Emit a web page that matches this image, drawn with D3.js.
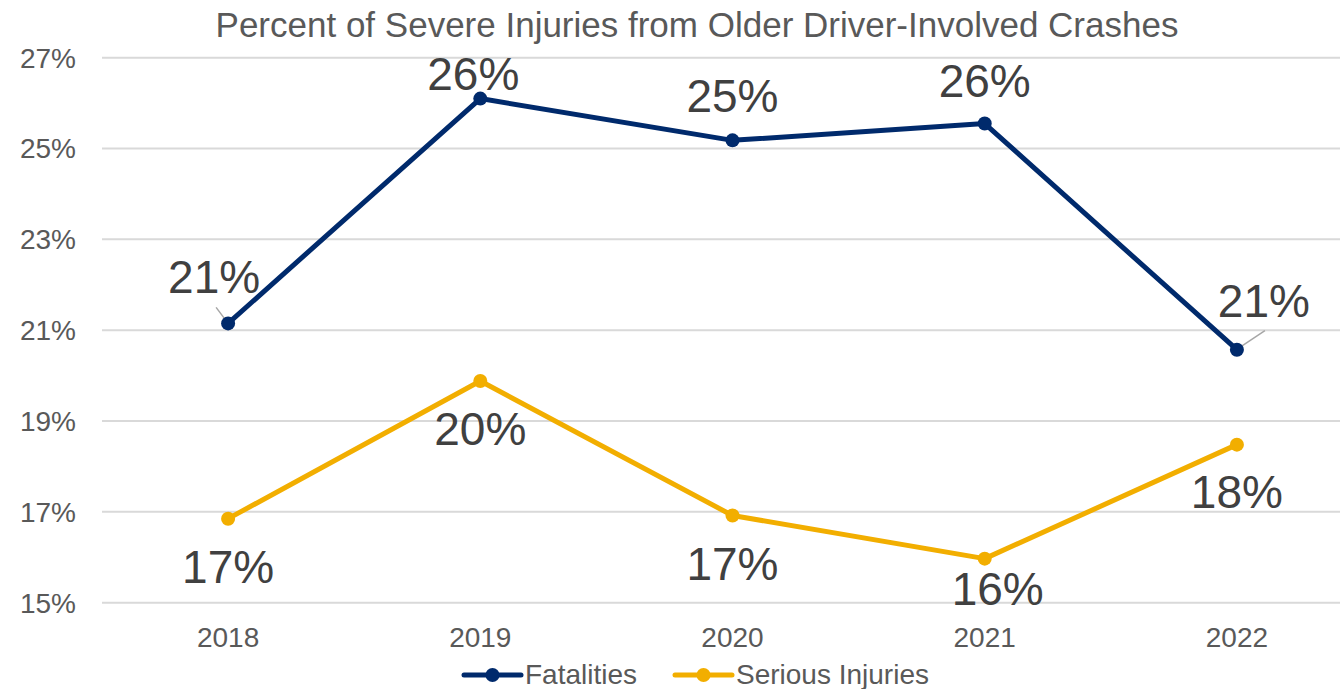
<!DOCTYPE html>
<html>
<head>
<meta charset="utf-8">
<script src="https://cdn.jsdelivr.net/npm/d3@7"></script>
<style>
  body { margin: 0; background: #fff; }
  svg { display: block; font-family: "Liberation Sans", Arial, sans-serif; }
</style>
</head>
<body>
<div id="chart"></div>
<script>
// chart data
var years = ["2018", "2019", "2020", "2021", "2022"];
var fatalities = [21.15, 26.1, 25.18, 25.55, 20.57];
var serious = [16.85, 19.88, 16.92, 15.97, 18.48];
var yTicks = [15, 17, 19, 21, 23, 25, 27];
var seriesNames = ["Fatalities", "Serious Injuries"];
var title = "Percent of Severe Injuries from Older Driver-Involved Crashes";

// label placement (dx, dy to baseline) relative to the point
var fatalOffsets = [[-14, -30], [-7, -9], [0, -28], [0, -27], [27, -33]];
var seriousOffsets = [[0, 64], [0, 64], [0, 64], [13, 46], [0, 63]];

var width = 1340, height = 689;
var margin = {top: 58, right: -23, bottom: 86, left: 102};
var colors = ["#002A6C", "#F2AE00"];

var svg = d3.select("#chart").append("svg")
    .attr("width", width).attr("height", height);

var xScale = d3.scaleBand()
    .domain(years)
    .range([margin.left, width - margin.right]);
var yScale = d3.scaleLinear()
    .domain([15, 27])
    .range([height - margin.bottom - 0.3, margin.top - 0.3]);
var cx = function(d) { return xScale(d) + xScale.bandwidth() / 2; };

// gridlines
svg.append("g")
  .selectAll("line")
  .data(yTicks)
  .join("line")
    .attr("x1", margin.left)
    .attr("x2", width)
    .attr("y1", d => yScale(d))
    .attr("y2", d => yScale(d))
    .attr("stroke", "#d9d9d9")
    .attr("stroke-width", 2);

// y axis labels
svg.append("g")
  .selectAll("text")
  .data(yTicks)
  .join("text")
    .attr("x", 76)
    .attr("y", d => yScale(d))
    .attr("dy", "0.35em")
    .attr("text-anchor", "end")
    .attr("fill", "#595959")
    .style("font-size", "28px")
    .text(d => d + "%");

// x axis labels
svg.append("g")
  .selectAll("text")
  .data(years)
  .join("text")
    .attr("x", d => cx(d))
    .attr("y", 647)
    .attr("text-anchor", "middle")
    .attr("fill", "#595959")
    .style("font-size", "28px")
    .text(d => d);

// title
svg.append("text")
    .attr("x", 697)
    .attr("y", 37)
    .attr("text-anchor", "middle")
    .attr("fill", "#595959")
    .style("font-size", "35px")
    .text(title);

var line = d3.line()
    .x((d, i) => cx(years[i]))
    .y(d => yScale(d));

function drawSeries(values, color, offsets, leaders) {
  var g = svg.append("g");
  g.append("path")
      .datum(values)
      .attr("fill", "none")
      .attr("stroke", color)
      .attr("stroke-width", 5)
      .attr("stroke-linejoin", "round")
      .attr("d", line);

  // leader lines for the displaced labels
  g.selectAll("line.leader")
    .data(leaders)
    .join("line")
      .attr("class", "leader")
      .attr("x1", d => cx(years[d.i]) + d.x)
      .attr("y1", d => yScale(values[d.i]) + d.y)
      .attr("x2", d => cx(years[d.i]) + d.x2)
      .attr("y2", d => yScale(values[d.i]) + d.y2)
      .attr("stroke", "#a6a6a6")
      .attr("stroke-width", 1.5);

  g.selectAll("circle")
    .data(values)
    .join("circle")
      .attr("cx", (d, i) => cx(years[i]))
      .attr("cy", d => yScale(d))
      .attr("r", 7)
      .attr("fill", color);

  g.selectAll("text")
    .data(values)
    .join("text")
      .attr("x", (d, i) => cx(years[i]) + offsets[i][0])
      .attr("y", (d, i) => yScale(d) + offsets[i][1])
      .attr("text-anchor", "middle")
      .attr("fill", "#404040")
      .style("font-size", "46px")
      .text(d => Math.round(d) + "%");
}

drawSeries(fatalities, colors[0], fatalOffsets,
  [{i: 0, x: -12, y: -16, x2: -3, y2: -4}, {i: 4, x: 28, y: -19, x2: 4, y2: -3}]);
drawSeries(serious, colors[1], seriousOffsets, []);

// legend
var legendX = [464, 675];
var legend = svg.append("g")
  .selectAll("g")
  .data(seriesNames)
  .join("g")
    .attr("transform", (d, i) => `translate(${legendX[i]},675)`);
legend.append("line")
    .attr("x1", 0).attr("x2", 57)
    .attr("stroke", (d, i) => colors[i])
    .attr("stroke-width", 5)
    .attr("stroke-linecap", "round");
legend.append("circle")
    .attr("cx", 28.5)
    .attr("r", 7)
    .attr("fill", (d, i) => colors[i]);
legend.append("text")
    .attr("x", 61)
    .attr("y", 9)
    .attr("fill", "#595959")
    .style("font-size", "28px")
    .text(d => d);
</script>
</body>
</html>
